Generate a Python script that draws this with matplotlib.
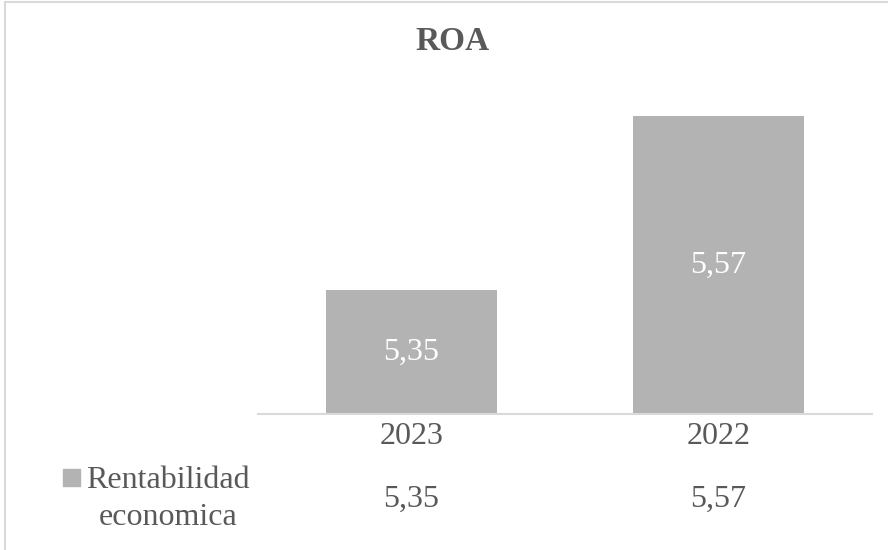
import matplotlib
matplotlib.use("Agg")
import matplotlib.pyplot as plt
import matplotlib.transforms as mtransforms
from matplotlib.patches import Rectangle

categories = ["2023", "2022"]
values = [5.35, 5.57]
value_labels = ["5,35", "5,57"]
series_name = "Rentabilidad\neconomica"
title = "ROA"

bar_color = "#B3B3B3"
text_color = "#595959"
line_color = "#D9D9D9"

plt.rcParams["font.family"] = ["Liberation Serif", "DejaVu Serif"]

W, H = 888, 550
fig = plt.figure(figsize=(W / 100, H / 100), dpi=100)

# plot area in pixels: x 258..872, y 92..414 (from top)
ax = fig.add_axes([258 / W, 1 - 414 / H, (872 - 258) / W, (414 - 92) / H])
ymin, ymax = 5.193, 5.6
x = list(range(len(categories)))
bars = ax.bar(x, values, width=0.557, color=bar_color, bottom=0)
ax.set_ylim(ymin, ymax)
ax.set_xlim(-0.5, len(categories) - 0.5)
for s in ax.spines.values():
    s.set_visible(False)
ax.set_xticks([])
ax.set_yticks([])
ax.axhline(ymin, color=line_color, lw=1.5, clip_on=False)

for xi, v, lab in zip(x, values, value_labels):
    ax.text(xi, (ymin + v) / 2, lab, ha="center", va="center",
            color="white", fontsize=23)

# data table below the axis
tr = mtransforms.blended_transform_factory(ax.transData, fig.transFigure)
for xi, cat, lab in zip(x, categories, value_labels):
    fig.text(xi, 1 - 437 / H, cat, transform=tr, ha="center", va="center",
             color=text_color, fontsize=23)
    fig.text(xi, 1 - 499 / H, lab, transform=tr, ha="center", va="center",
             color=text_color, fontsize=23)

# legend key in the table
fig.patches.append(Rectangle((63 / W, 1 - 486 / H), 17 / W, 17 / H,
                             transform=fig.transFigure, color=bar_color))
fig.text(168 / W, 1 - 499 / H, series_name, ha="center", va="center",
         color=text_color, fontsize=23, linespacing=1.38)

fig.text(453 / W, 1 - 42 / H, title, ha="center", va="center",
         color=text_color, fontsize=24, fontweight="bold")

# chart border
fig.patches.append(Rectangle((5 / W, -0.01), 1.0, 1 - 2 / H + 0.01,
                             transform=fig.transFigure, fill=False,
                             edgecolor=line_color, lw=1.5))

fig.savefig("out.png", dpi=100, facecolor="white")
